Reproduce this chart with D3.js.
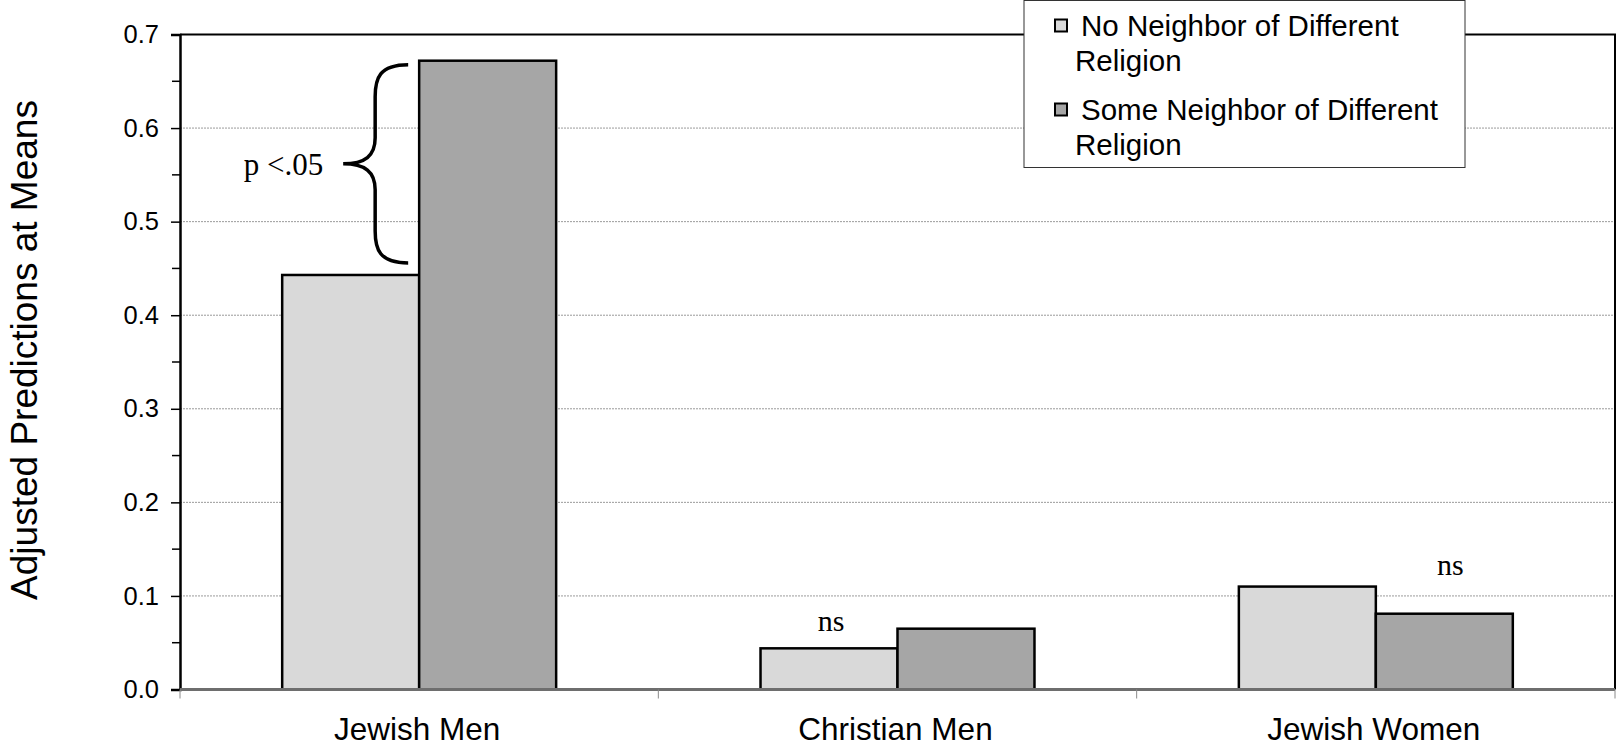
<!DOCTYPE html>
<html>
<head>
<meta charset="utf-8">
<script src="https://cdn.jsdelivr.net/npm/d3@7/dist/d3.min.js"></script>
<style>
  html, body { margin: 0; padding: 0; background: #fff; }
  svg { display: block; }
</style>
</head>
<body>
<svg id="chart" width="1617" height="745"></svg>
<script>
// Adjusted predictions by group and neighbourhood religious mix
const categories = ["Jewish Men", "Christian Men", "Jewish Women"];
const seriesNames = ["No Neighbor of Different Religion", "Some Neighbor of Different Religion"];
const noNeighbor = [0.443, 0.044, 0.110];
const someNeighbor = [0.672, 0.065, 0.081];
const yTicks = [0.0, 0.1, 0.2, 0.3, 0.4, 0.5, 0.6, 0.7];
const yMinorTicks = [0.05, 0.15, 0.25, 0.35, 0.45, 0.55, 0.65];
const seriesColors = ["#d9d9d9", "#a6a6a6"];
// significance notes: category, anchor value, label
const nsNotes = [
  { cat: "Christian Men", series: 0, at: 0.0626, label: "ns" },
  { cat: "Jewish Women", series: 1, at: 0.1226, label: "ns" }
];
const braceNote = { cat: "Jewish Men", label: "p <.05" };

const svg = d3.select("#chart");
const margin = { left: 180, right: 2, top: 34.5, bottom: 55.5 };
const W = 1617, H = 745;
const x0 = margin.left, x1 = W - margin.right;
const y0 = H - margin.bottom, y1 = margin.top;

const x = d3.scaleBand().domain(categories).range([x0, x1]).paddingInner(0).paddingOuter(0);
const inner = d3.scaleBand().domain([0, 1]).range([0, x.bandwidth()]).paddingOuter(0.746).paddingInner(0);
const y = d3.scaleLinear().domain([0, 0.7]).range([y0, y1]);

const table = categories.map((c, i) => ({ cat: c, vals: [noNeighbor[i], someNeighbor[i]] }));

// horizontal dotted gridlines
svg.append("g")
  .selectAll("line")
  .data(yTicks.filter(t => t > 0 && t < 0.7))
  .join("line")
  .attr("x1", x0).attr("x2", x1)
  .attr("y1", d => y(d)).attr("y2", d => y(d))
  .attr("stroke", "#9a9a9a")
  .attr("stroke-width", 1)
  .attr("stroke-dasharray", "2,1");

// plot frame: top and right
svg.append("path")
  .attr("d", `M${x0},${y1}H${x1}V${y0}`)
  .attr("fill", "none")
  .attr("stroke", "#000")
  .attr("stroke-width", 2);

// bars
const groups = svg.append("g")
  .selectAll("g")
  .data(table)
  .join("g")
  .attr("transform", d => `translate(${x(d.cat)},0)`);

groups.selectAll("rect")
  .data(d => d.vals.map((v, k) => ({ v, k })))
  .join("rect")
  .attr("x", d => inner(d.k))
  .attr("width", inner.bandwidth())
  .attr("y", d => y(d.v))
  .attr("height", d => y(0) - y(d.v))
  .attr("fill", d => seriesColors[d.k])
  .attr("stroke", "#000")
  .attr("stroke-width", 2.5);

// y axis
const yAxis = d3.axisLeft(y).tickValues(yTicks).tickFormat(d3.format(".1f")).tickSize(9).tickPadding(12);
const gy = svg.append("g").attr("transform", `translate(${x0},0)`).call(yAxis);
gy.select(".domain").attr("stroke", "#000").attr("stroke-width", 2.5);
gy.selectAll(".tick line").attr("stroke", "#000").attr("stroke-width", 1.5);
gy.selectAll(".tick text")
  .attr("font-family", "Liberation Sans, Arial, sans-serif")
  .attr("font-size", 25.5)
  .attr("fill", "#000");
gy.append("g")
  .selectAll("line")
  .data(yMinorTicks)
  .join("line")
  .attr("x1", -8).attr("x2", 0)
  .attr("y1", d => y(d)).attr("y2", d => y(d))
  .attr("stroke", "#000").attr("stroke-width", 1.5);

// x axis (category boundaries as ticks)
const xAxisLine = svg.append("g");
xAxisLine.append("line")
  .attr("x1", x0).attr("x2", x1)
  .attr("y1", y0).attr("y2", y0)
  .attr("stroke", "#6e6e6e").attr("stroke-width", 3);
const bounds = categories.map(c => x(c)).concat([x1]);
xAxisLine.selectAll("line.b")
  .data(bounds)
  .join("line")
  .attr("class", "b")
  .attr("x1", d => d).attr("x2", d => d)
  .attr("y1", y0).attr("y2", y0 + 9)
  .attr("stroke", "#8a8a8a").attr("stroke-width", 1);
xAxisLine.selectAll("text")
  .data(categories)
  .join("text")
  .attr("x", d => x(d) + x.bandwidth() / 2 - 2)
  .attr("y", y0 + 50)
  .attr("text-anchor", "middle")
  .attr("font-family", "Liberation Sans, Arial, sans-serif")
  .attr("font-size", 31.5)
  .attr("fill", "#000")
  .text(d => d);

// y axis title
svg.append("text")
  .attr("transform", `translate(37,${(y0 + y1) / 2 - 12}) rotate(-90)`)
  .attr("text-anchor", "middle")
  .attr("font-family", "Liberation Sans, Arial, sans-serif")
  .attr("font-size", 37)
  .attr("fill", "#000")
  .text("Adjusted Predictions at Means");

// brace with significance label for the first group
{
  const i = categories.indexOf(braceNote.cat);
  const top = y(someNeighbor[i]) + 4;
  const bot = y(noNeighbor[i]) - 12;
  const mid = (top + bot) / 2;
  const xe = x(braceNote.cat) + inner(0) + inner.bandwidth() - 11;
  const xs = xe - 33;
  const xt = xe - 65;
  svg.append("path")
    .attr("d", `M${xe},${top} C${xs + 4},${top} ${xs},${top + 14} ${xs},${top + 32}
      L${xs},${mid - 26} C${xs},${mid - 8} ${xs - 10},${mid} ${xt},${mid}
      C${xs - 10},${mid} ${xs},${mid + 8} ${xs},${mid + 26}
      L${xs},${bot - 32} C${xs},${bot - 14} ${xs + 4},${bot} ${xe},${bot}`)
    .attr("fill", "none")
    .attr("stroke", "#000")
    .attr("stroke-width", 3.5);
  svg.append("text")
    .attr("x", xt - 20)
    .attr("y", mid + 11)
    .attr("text-anchor", "end")
    .attr("font-family", "Liberation Serif, Times New Roman, serif")
    .attr("font-size", 31)
    .attr("fill", "#000")
    .text(braceNote.label);
}

// "ns" notes
svg.append("g")
  .selectAll("text")
  .data(nsNotes)
  .join("text")
  .attr("x", d => x(d.cat) + inner(d.series) + inner.bandwidth() / 2 + (d.series ? 6 : 2))
  .attr("y", d => y(d.at))
  .attr("text-anchor", "middle")
  .attr("font-family", "Liberation Serif, Times New Roman, serif")
  .attr("font-size", 30)
  .attr("fill", "#000")
  .text(d => d.label);

// legend
const lg = svg.append("g").attr("transform", "translate(1024,0.5)");
lg.append("rect")
  .attr("x", 0).attr("y", 0)
  .attr("width", 441).attr("height", 167)
  .attr("fill", "#fff").attr("stroke", "#333").attr("stroke-width", 1);
const legendLines = [["No Neighbor of Different", "Religion"], ["Some Neighbor of Different", "Religion"]];
seriesNames.forEach((name, k) => {
  const cy = 25 + k * 84;
  lg.append("rect")
    .attr("x", 31).attr("y", cy - 6)
    .attr("width", 12).attr("height", 12)
    .attr("fill", seriesColors[k]).attr("stroke", "#000").attr("stroke-width", 2);
  const t = lg.append("text")
    .attr("font-family", "Liberation Sans, Arial, sans-serif")
    .attr("font-size", 29.5)
    .attr("fill", "#000");
  t.append("tspan").attr("x", 57).attr("y", cy + 10).text(legendLines[k][0]);
  t.append("tspan").attr("x", 51).attr("y", cy + 45).text(legendLines[k][1]);
});
</script>
</body>
</html>
